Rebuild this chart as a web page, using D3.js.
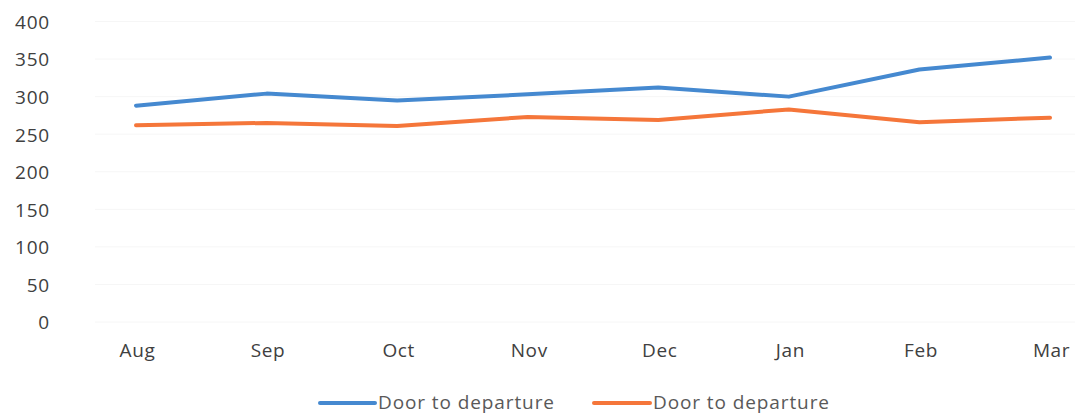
<!DOCTYPE html>
<html>
<head>
<meta charset="utf-8">
<script src="https://cdn.jsdelivr.net/npm/d3@7"></script>
<style>
  html, body { margin: 0; padding: 0; background: #fff; }
  svg { display: block; font-family: "Open Sans", sans-serif; }
</style>
</head>
<body>
<svg id="chart" width="1075" height="415"></svg>
<script>
// Monthly door-to-departure times, two series
const months = ["Aug", "Sep", "Oct", "Nov", "Dec", "Jan", "Feb", "Mar"];
const seriesBlue = [288, 304, 295, 303, 312, 300, 336, 352];
const seriesOrange = [262, 265, 261, 273, 269, 283, 266, 272];
const seriesNames = ["Door to departure", "Door to departure"];
const yTicks = [0, 50, 100, 150, 200, 250, 300, 350, 400];

const svg = d3.select("#chart");
const colors = ["#4589d0", "#f5763a"];

const x = d3.scalePoint().domain(months).range([136, 1050]);
const y = d3.scaleLinear().domain([0, 400]).range([322, 21.5]);

// faint horizontal gridlines
svg.append("g")
  .selectAll("line")
  .data(yTicks)
  .join("line")
  .attr("x1", 95).attr("x2", 1075)
  .attr("y1", d => y(d)).attr("y2", d => y(d))
  .attr("stroke", "#f6f6f6").attr("stroke-width", 1);

// y axis labels
const yAxis = d3.axisLeft(y).tickValues(yTicks).tickSize(0).tickPadding(0);
const gy = svg.append("g").attr("transform", "translate(50,0)").call(yAxis);
gy.select(".domain").remove();
gy.selectAll("text")
  .attr("font-family", "Open Sans, sans-serif")
  .attr("font-size", 19)
  .attr("letter-spacing", "0.8px")
  .attr("fill", "#404040")
  .attr("dy", "0.36em");

// x axis labels
const xAxis = d3.axisBottom(x).tickSize(0).tickPadding(0);
const gx = svg.append("g").attr("transform", "translate(1,343)").call(xAxis);
gx.select(".domain").remove();
gx.selectAll("text")
  .attr("font-family", "Open Sans, sans-serif")
  .attr("font-size", 19)
  .attr("letter-spacing", "0.6px")
  .attr("fill", "#404040")
  .attr("dy", "0.75em");

// lines
const line = d3.line().x((d, i) => x(months[i])).y(d => y(d));
[seriesBlue, seriesOrange].forEach((s, k) => {
  svg.append("path")
    .datum(s)
    .attr("d", line)
    .attr("fill", "none")
    .attr("stroke", colors[k])
    .attr("stroke-width", 4)
    .attr("stroke-linejoin", "round")
    .attr("stroke-linecap", "round");
});

// legend
const legendItems = [
  { x1: 320, x2: 375, tx: 378 },
  { x1: 594, x2: 650, tx: 653 }
];
legendItems.forEach((it, k) => {
  svg.append("line")
    .attr("x1", it.x1).attr("x2", it.x2)
    .attr("y1", 403).attr("y2", 403)
    .attr("stroke", colors[k]).attr("stroke-width", 4)
    .attr("stroke-linecap", "round");
  svg.append("text")
    .attr("x", it.tx).attr("y", 409)
    .attr("font-size", 19)
    .attr("letter-spacing", "0.9px")
    .attr("fill", "#595959")
    .text(seriesNames[k]);
});
</script>
</body>
</html>
